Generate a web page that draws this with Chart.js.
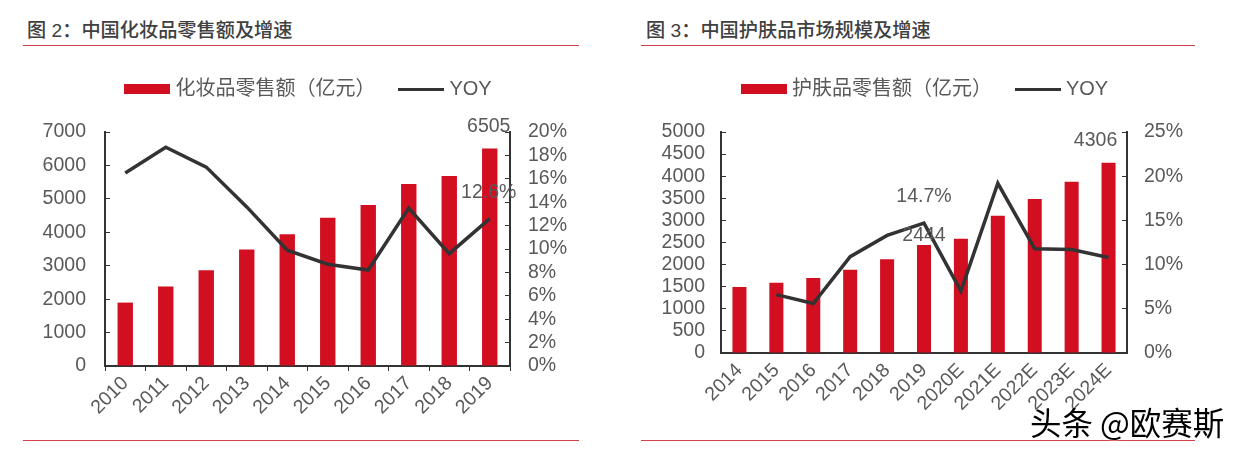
<!DOCTYPE html>
<html>
<head>
<meta charset="utf-8">
<script src="https://cdn.jsdelivr.net/npm/chart.js@4/dist/chart.umd.min.js"></script>
<style>
html, body { margin: 0; padding: 0; background: #fff; }
body { position: relative; width: 1240px; height: 450px; overflow: hidden; font-family: "Liberation Sans", "Noto Sans CJK SC", sans-serif; }
canvas { position: absolute; top: 0; }
.title { position: absolute; top: 19px; font: 500 19.2px/24px "Liberation Sans", "Noto Sans CJK SC", sans-serif; color: #404040; white-space: nowrap; }
.rule { position: absolute; height: 1.5px; background: #d2414c; }
#mark { position: absolute; left: 1030px; top: 400px; font: 31.5px/42px "Noto Sans CJK SC", sans-serif; color: #000; white-space: nowrap; text-shadow: 0 0 2px #fff; }
</style>
</head>
<body>
<div class="title" style="left:27px">图 2：中国化妆品零售额及增速</div>
<div class="rule" style="left:23px;width:556px;top:44.5px"></div>
<div class="rule" style="left:23px;width:556px;top:439.5px"></div>
<div class="title" style="left:646px">图 3：中国护肤品市场规模及增速</div>
<div class="rule" style="left:641px;width:554px;top:44.5px"></div>
<div class="rule" style="left:641px;width:554px;top:439.5px"></div>
<canvas id="graf2" style="left:0" width="621" height="450"></canvas>
<canvas id="graf3" style="left:620px" width="614" height="450"></canvas>
<div id="mark">头条 @欧赛斯</div>

<script>
// figure 2
const anos2 = ['2010', '2011', '2012', '2013', '2014', '2015', '2016', '2017', '2018', '2019'];
const vendas2 = [1897, 2377, 2866, 3485, 3944, 4434, 4813, 5442, 5682, 6505];
const yoy2 = [16.5, 18.7, 17.0, 13.6, 9.9, 8.7, 8.2, 13.5, 9.6, 12.6];

// figure 3
const anos3 = ['2014', '2015', '2016', '2017', '2018', '2019', '2020E', '2021E', '2022E', '2023E', '2024E'];
const vendas3 = [1493, 1591, 1697, 1885, 2119, 2444, 2587, 3107, 3484, 3876, 4306];
const yoy3 = [null, 6.6, 5.6, 10.9, 13.3, 14.7, 7.0, 19.2, 11.8, 11.7, 10.8];

const VERMELHO = '#d20f20';
const ESCURO = '#333333';
const TEXTO = '#595959';
const FONTE = '"Liberation Sans", "Noto Sans CJK SC", sans-serif';
const TAM = 19.5;

// legend swatches are drawn once on small canvases, used as point styles
function amostra(w, h, cor) {
    const c = document.createElement('canvas');
    c.width = w;
    c.height = h;
    const ctx = c.getContext('2d');
    ctx.fillStyle = cor;
    ctx.fillRect(0, 0, w, h);
    return c;
}

// value labels next to single marks
const rotulos = {
    id: 'rotulos',
    afterDatasetsDraw(chart, args, opts) {
        const ctx = chart.ctx;
        ctx.save();
        ctx.font = TAM + 'px ' + FONTE;
        ctx.fillStyle = TEXTO;
        ctx.textAlign = 'center';
        ctx.textBaseline = 'middle';
        opts.itens.forEach(function (r) {
            const el = chart.getDatasetMeta(r.ds).data[r.i];
            ctx.fillText(r.texto, el.x + r.dx, el.y + r.dy);
        });
        ctx.restore();
    }
};

// leaves room between the legend and the plot
const folgaLegenda = {
    id: 'folgaLegenda',
    beforeInit(chart) {
        const fit = chart.legend.fit;
        chart.legend.fit = function () {
            fit.call(chart.legend);
            this.height += 23;
        };
    }
};

function grafico(id, anos, vendas, yoy, nomeBarra, cfg) {
    const ajustaLargura = function (w) {
        return function (scale) {
            scale.width = w;
            scale.paddingTop = 0;
            scale.paddingBottom = 0;
        };
    };
    return new Chart(document.getElementById(id), {
        type: 'bar',
        data: {
            labels: anos,
            datasets: [
                {
                    label: nomeBarra,
                    data: vendas,
                    backgroundColor: VERMELHO,
                    barPercentage: 0.38,
                    categoryPercentage: 1,
                    yAxisID: 'y',
                    order: 2,
                    pointStyle: amostra(46, 10, VERMELHO)
                },
                {
                    type: 'line',
                    label: 'YOY',
                    data: yoy,
                    borderColor: ESCURO,
                    borderWidth: 3.5,
                    tension: 0,
                    pointRadius: 0,
                    yAxisID: 'y1',
                    order: 1,
                    pointStyle: amostra(46, 3.5, ESCURO)
                }
            ]
        },
        options: {
            responsive: false,
            animation: false,
            layout: { padding: { top: 51, left: 0, right: 0, bottom: 0 } },
            plugins: {
                tooltip: { enabled: false },
                rotulos: { itens: cfg.rotulos },
                legend: {
                    position: 'top',
                    labels: {
                        usePointStyle: true,
                        pointStyleWidth: 36,
                        padding: 28,
                        color: TEXTO,
                        font: { size: 20, family: FONTE },
                        sort: function (a, b) { return a.datasetIndex - b.datasetIndex; }
                    }
                }
            },
            scales: {
                x: {
                    grid: {
                        offset: true,
                        drawOnChartArea: false,
                        drawTicks: cfg.marcasX,
                        tickLength: 5,
                        color: ESCURO
                    },
                    border: { color: ESCURO, width: 2 },
                    ticks: {
                        minRotation: 45,
                        maxRotation: 45,
                        autoSkip: false,
                        padding: cfg.marcasX ? 1 : 6,
                        color: TEXTO,
                        font: { size: TAM, family: FONTE }
                    },
                    afterFit: function (scale) {
                        scale.height = cfg.baseX;
                        scale.paddingLeft = 0;
                        scale.paddingRight = 0;
                    }
                },
                y: {
                    position: 'left',
                    min: 0,
                    max: cfg.maxY,
                    grid: { drawOnChartArea: false, tickLength: -5, color: ESCURO },
                    border: { color: ESCURO, width: 2 },
                    ticks: {
                        stepSize: cfg.passoY,
                        autoSkip: false,
                        padding: cfg.folgaE + 5,
                        color: TEXTO,
                        font: { size: TAM, family: FONTE },
                        callback: function (v) { return String(v); }
                    },
                    afterFit: ajustaLargura(cfg.larguraE)
                },
                y1: {
                    position: 'right',
                    min: 0,
                    max: cfg.maxY1,
                    grid: { drawOnChartArea: false, tickLength: -5, color: ESCURO },
                    border: { color: ESCURO, width: 2 },
                    ticks: {
                        stepSize: cfg.passoY1,
                        autoSkip: false,
                        padding: cfg.folgaD + 5,
                        color: TEXTO,
                        font: { size: TAM, family: FONTE },
                        callback: function (v) { return v + '%'; }
                    },
                    afterFit: ajustaLargura(cfg.larguraD)
                }
            }
        },
        plugins: [rotulos, folgaLegenda]
    });
}

grafico('graf2', anos2, vendas2, yoy2, '化妆品零售额（亿元）', {
    maxY: 7000, passoY: 1000, maxY1: 20, passoY1: 2,
    larguraE: 105, larguraD: 111, baseX: 84, marcasX: true, folgaE: 19, folgaD: 18,
    rotulos: [
        { ds: 0, i: 9, texto: '6505', dx: -1, dy: -22 },
        { ds: 1, i: 9, texto: '12.6%', dx: -1, dy: -26 }
    ]
});

grafico('graf3', anos3, vendas3, yoy3, '护肤品零售额（亿元）', {
    maxY: 5000, passoY: 500, maxY1: 25, passoY1: 5,
    larguraE: 101, larguraD: 107, baseX: 97, marcasX: false, folgaE: 16, folgaD: 17,
    rotulos: [
        { ds: 0, i: 5, texto: '2444', dx: 0, dy: -9 },
        { ds: 0, i: 10, texto: '4306', dx: -13, dy: -22 },
        { ds: 1, i: 5, texto: '14.7%', dx: 0, dy: -26 }
    ]
});
</script>
</body>
</html>
